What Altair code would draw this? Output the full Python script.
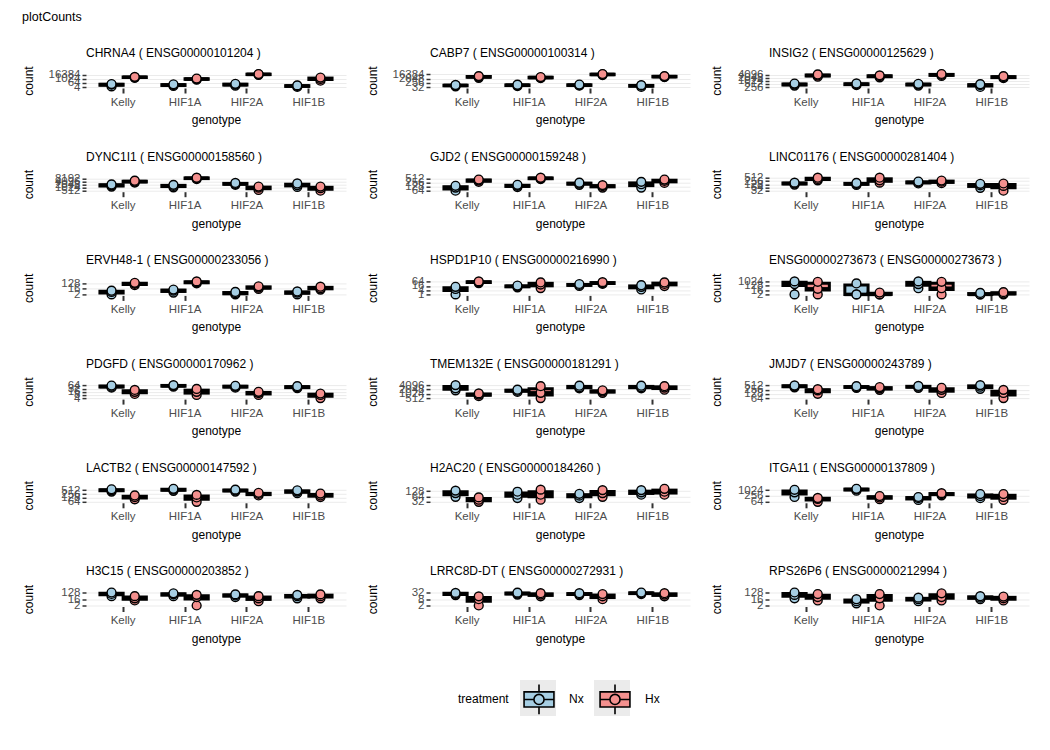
import altair as alt
import pandas as pd

GENOTYPES = ["Kelly", "HIF1A", "HIF2A", "HIF1B"]
TREATMENTS = ["Nx", "Hx"]
FILL_COLORS = ["#A6CEE3", "#F4908E"]

# values: Kelly x3, HIF1A x3, HIF2A x3, HIF1B x3
CHRNA4_NX = [6, 20, 30, 8, 15, 25, 10, 20, 35, 4, 8, 12]
CHRNA4_HX = [2000, 3000, 4000, 600, 900, 1300, 16000, 22000, 28000, 300, 1000, 2500]
CHRNA4_TICKS = [4, 64, 1024, 16384]

CABP7_NX = [45, 70, 90, 50, 80, 100, 60, 80, 110, 32, 60, 80]
CABP7_HX = [3000, 5000, 7000, 2500, 3500, 4500, 12000, 16000, 20000, 4000, 5500, 7000]
CABP7_TICKS = [32, 256, 2048, 16384]

INSIG2_NX = [350, 450, 550, 380, 480, 560, 350, 450, 520, 256, 380, 480]
INSIG2_HX = [2500, 3300, 4200, 2200, 2800, 3400, 3000, 3800, 4600, 1800, 2300, 2800]
INSIG2_TICKS = [256, 512, 1024, 2048, 4096]

DYNC1I1_NX = [1300, 1700, 2100, 1100, 1500, 1900, 1900, 2400, 2900, 1200, 1800, 2600]
DYNC1I1_HX = [3200, 4000, 4800, 7000, 8500, 9500, 600, 1000, 1300, 512, 900, 1300]
DYNC1I1_TICKS = [512, 1024, 2048, 4096, 8192]

GJD2_NX = [64, 110, 150, 120, 150, 180, 180, 220, 260, 110, 200, 300]
GJD2_HX = [300, 380, 450, 480, 560, 620, 110, 140, 170, 250, 350, 450]
GJD2_TICKS = [64, 128, 256, 512]

LINC01176_NX = [120, 150, 180, 110, 140, 170, 150, 190, 230, 60, 100, 140]
LINC01176_HX = [300, 400, 520, 180, 300, 520, 160, 220, 280, 32, 90, 150]
LINC01176_TICKS = [32, 64, 128, 256, 512]

ERVH48_1_NX = [2, 5, 8, 4, 8, 12, 2, 3, 5, 2, 4, 6]
ERVH48_1_HX = [60, 100, 150, 120, 180, 250, 15, 25, 40, 12, 20, 35]
ERVH48_1_TICKS = [2, 16, 128]

HSPD1P10_NX = [1, 6, 12, 10, 14, 18, 16, 22, 30, 5, 12, 20]
HSPD1P10_HX = [40, 55, 70, 8, 25, 50, 30, 40, 55, 15, 30, 50]
HSPD1P10_TICKS = [1, 4, 16, 64]

ENSG273673_NX = [2, 300, 1100, 2, 2, 400, 40, 300, 1100, 2, 2, 4]
ENSG273673_HX = [2, 30, 900, 2, 2, 5, 2, 40, 900, 2, 3, 6]
ENSG273673_TICKS = [2, 16, 128, 1024]

PDGFD_NX = [40, 50, 64, 50, 60, 70, 40, 50, 60, 35, 45, 55]
PDGFD_HX = [10, 16, 24, 8, 16, 30, 8, 12, 16, 4, 8, 11]
PDGFD_TICKS = [4, 8, 16, 32, 64]

TMEM132E_NX = [1800, 2500, 4200, 1400, 1700, 2000, 2500, 3000, 3800, 2500, 3000, 3800]
TMEM132E_HX = [700, 900, 1100, 512, 1200, 3500, 1200, 1500, 1800, 2000, 2800, 3500]
TMEM132E_TICKS = [512, 1024, 2048, 4096]

JMJD7_NX = [380, 450, 520, 350, 400, 460, 350, 420, 480, 300, 420, 550]
JMJD7_HX = [130, 230, 280, 250, 320, 400, 150, 250, 350, 64, 150, 250]
JMJD7_TICKS = [64, 128, 256, 512]

LACTB2_NX = [400, 500, 600, 450, 550, 650, 400, 480, 560, 300, 400, 500]
LACTB2_HX = [100, 150, 200, 64, 140, 220, 200, 260, 320, 150, 200, 280]
LACTB2_TICKS = [64, 128, 256, 512]

H2AC20_NX = [60, 100, 140, 50, 80, 120, 50, 70, 90, 80, 110, 150]
H2AC20_HX = [30, 40, 55, 40, 80, 160, 60, 100, 150, 80, 120, 180]
H2AC20_TICKS = [32, 64, 128]

ITGA11_NX = [200, 600, 1100, 900, 1200, 1400, 100, 150, 200, 150, 250, 400]
ITGA11_HX = [64, 130, 160, 120, 180, 250, 300, 400, 500, 100, 200, 400]
ITGA11_TICKS = [64, 256, 1024]

H3C15_NX = [40, 80, 128, 40, 70, 100, 30, 50, 70, 20, 40, 60]
H3C15_HX = [10, 20, 40, 2, 30, 60, 8, 20, 40, 20, 40, 70]
H3C15_TICKS = [2, 16, 128]

LRRC8D_DT_NX = [20, 26, 32, 22, 28, 34, 20, 25, 30, 25, 30, 35]
LRRC8D_DT_HX = [2, 8, 15, 15, 22, 30, 8, 15, 25, 15, 22, 30]
LRRC8D_DT_TICKS = [2, 8, 32]

RPS26P6_NX = [20, 60, 130, 4, 8, 15, 8, 15, 25, 15, 25, 40]
RPS26P6_HX = [10, 30, 80, 2, 20, 80, 10, 30, 100, 10, 20, 35]
RPS26P6_TICKS = [2, 16, 128]

GENES = [
    ("CHRNA4", "ENSG00000101204", CHRNA4_NX, CHRNA4_HX, CHRNA4_TICKS),
    ("CABP7", "ENSG00000100314", CABP7_NX, CABP7_HX, CABP7_TICKS),
    ("INSIG2", "ENSG00000125629", INSIG2_NX, INSIG2_HX, INSIG2_TICKS),
    ("DYNC1I1", "ENSG00000158560", DYNC1I1_NX, DYNC1I1_HX, DYNC1I1_TICKS),
    ("GJD2", "ENSG00000159248", GJD2_NX, GJD2_HX, GJD2_TICKS),
    ("LINC01176", "ENSG00000281404", LINC01176_NX, LINC01176_HX, LINC01176_TICKS),
    ("ERVH48-1", "ENSG00000233056", ERVH48_1_NX, ERVH48_1_HX, ERVH48_1_TICKS),
    ("HSPD1P10", "ENSG00000216990", HSPD1P10_NX, HSPD1P10_HX, HSPD1P10_TICKS),
    ("ENSG00000273673", "ENSG00000273673", ENSG273673_NX, ENSG273673_HX, ENSG273673_TICKS),
    ("PDGFD", "ENSG00000170962", PDGFD_NX, PDGFD_HX, PDGFD_TICKS),
    ("TMEM132E", "ENSG00000181291", TMEM132E_NX, TMEM132E_HX, TMEM132E_TICKS),
    ("JMJD7", "ENSG00000243789", JMJD7_NX, JMJD7_HX, JMJD7_TICKS),
    ("LACTB2", "ENSG00000147592", LACTB2_NX, LACTB2_HX, LACTB2_TICKS),
    ("H2AC20", "ENSG00000184260", H2AC20_NX, H2AC20_HX, H2AC20_TICKS),
    ("ITGA11", "ENSG00000137809", ITGA11_NX, ITGA11_HX, ITGA11_TICKS),
    ("H3C15", "ENSG00000203852", H3C15_NX, H3C15_HX, H3C15_TICKS),
    ("LRRC8D-DT", "ENSG00000272931", LRRC8D_DT_NX, LRRC8D_DT_HX, LRRC8D_DT_TICKS),
    ("RPS26P6", "ENSG00000212994", RPS26P6_NX, RPS26P6_HX, RPS26P6_TICKS),
]

FONT = "Liberation Sans"
LEGEND_PATH = (
    "M-0.83,-0.42H0.83V0.42H-0.83Z"
    "M0,-0.42V-0.83M0,0.42V0.83"
    "M-0.83,0H-0.28M0.28,0H0.83"
    "M-0.28,0A0.28,0.28,0,1,1,0.28,0A0.28,0.28,0,1,1,-0.28,0Z"
)
LEG_X = 372
LEG_Y = 607
ZW = "\u200b"  # zero-width suffix: keeps the key-background legend separate
KEYS = [t + ZW for t in TREATMENTS]


def make_panel(name, gid, nx, hx, ticks, extent):
    rows = []
    for tr, vals in (("Nx", nx), ("Hx", hx)):
        for i, v in enumerate(vals):
            rows.append(
                {"genotype": GENOTYPES[i // 3], "treatment": tr, "key": tr + ZW, "count": v}
            )
    sub = pd.DataFrame(rows)

    x = alt.X(
        "genotype:N",
        sort=GENOTYPES,
        scale=alt.Scale(domain=GENOTYPES, paddingInner=0, paddingOuter=0.1),
        axis=alt.Axis(title="genotype", labelAngle=0, bandPosition=0.5),
    )
    xo = alt.XOffset(
        "treatment:N",
        sort=TREATMENTS,
        scale=alt.Scale(domain=TREATMENTS, paddingInner=0, paddingOuter=0.334),
    )
    yscale = alt.Scale(type="log", base=2, nice=False, padding=1)
    yaxis = alt.Axis(
        title="count", values=ticks, format="d", minExtent=extent, maxExtent=extent
    )
    fill = alt.Fill(
        "treatment:N",
        sort=TREATMENTS,
        scale=alt.Scale(domain=TREATMENTS, range=FILL_COLORS),
        legend=alt.Legend(
            title="treatment",
            symbolType=LEGEND_PATH,
            orient="none",
            legendX=LEG_X,
            legendY=LEG_Y,
            zindex=2,
            symbolStrokeColor="black",
            symbolStrokeWidth=1.6,
        ),
    )
    key_bg = alt.Opacity(
        "key:N",
        sort=KEYS,
        scale=alt.Scale(domain=KEYS, range=[1, 1]),
        legend=alt.Legend(
            title="treatment",
            symbolType="square",
            orient="none",
            legendX=LEG_X,
            legendY=LEG_Y,
            zindex=1,
            titleColor="rgba(0,0,0,0)",
            labelColor="rgba(0,0,0,0)",
            symbolFillColor="#EBEBEB",
            symbolStrokeColor="#EBEBEB",
            symbolStrokeWidth=0,
        ),
    )
    base = alt.Chart(sub)
    agg = base.transform_aggregate(
        lo="min(count)",
        hi="max(count)",
        q1="q1(count)",
        q3="q3(count)",
        med="median(count)",
        groupby=["genotype", "treatment"],
    )
    whisk = agg.mark_rule(color="black", strokeWidth=2.6).encode(
        x=x, xOffset=xo, y=alt.Y("lo:Q", scale=yscale, axis=yaxis), y2="hi:Q"
    )
    box = agg.mark_bar(stroke="black", strokeWidth=3).encode(
        x=x, xOffset=xo, y=alt.Y("q1:Q", scale=yscale, axis=yaxis), y2="q3:Q", fill=fill
    )
    med = agg.mark_tick(color="black", size=24, thickness=3.5, opacity=1).encode(
        x=x, xOffset=xo, y=alt.Y("med:Q", scale=yscale, axis=yaxis)
    )
    pts = base.mark_point(
        shape="circle", filled=True, size=78, stroke="black", strokeWidth=1.4
    ).encode(
        x=x,
        xOffset=xo,
        y=alt.Y("count:Q", scale=yscale, axis=yaxis),
        fill=fill,
        opacity=key_bg,
    )
    return alt.layer(whisk, box, med, pts).properties(
        width=260,
        height=15,
        title=alt.TitleParams(
            text=f"{name} ( {gid} )",
            anchor="start",
            frame="group",
            fontSize=12,
            fontWeight="normal",
            offset=6,
            color="black",
        ),
    )


panels = []
for idx, (name, gid, nx, hx, ticks) in enumerate(GENES):
    extent = 33 if idx % 3 == 2 else 38
    panels.append(make_panel(name, gid, nx, hx, ticks, extent))

rows = [
    alt.hconcat(*panels[r * 3:(r + 1) * 3], spacing=20).resolve_scale(xOffset="independent")
    for r in range(6)
]

chart = (
    alt.vconcat(*rows, spacing=23.7)
    .resolve_scale(xOffset="independent")
    .properties(
        title=alt.TitleParams(
            text="plotCounts", anchor="start", fontSize=12.5, fontWeight="normal", offset=23
        ),
        padding={"left": 14, "top": 3, "right": 5, "bottom": 5},
    )
    .configure(font=FONT)
    .configure_view(stroke=None)
    .configure_axisX(
        labelFontSize=11.5,
        labelColor="#4D4D4D",
        labelPadding=3,
        tickSize=5,
        tickWidth=2,
        tickColor="#333333",
        domain=False,
        grid=False,
        titleFontSize=12,
        titleFontWeight="normal",
        titleColor="black",
        titlePadding=7,
    )
    .configure_axisY(
        labelFontSize=11.5,
        labelColor="#4D4D4D",
        labelPadding=2,
        labelOverlap=False,
        labelBound=False,
        tickSize=4,
        tickWidth=1.5,
        tickColor="#333333",
        domain=False,
        grid=True,
        gridColor="#EBEBEB",
        gridWidth=1,
        titleFontSize=12,
        titleFontWeight="normal",
        titleColor="black",
        titlePadding=13,
    )
    .configure_legend(
        direction="horizontal",
        titleOrient="left",
        titleAnchor="middle",
        titleBaseline="middle",
        titleFontSize=12,
        titleFontWeight="normal",
        titleColor="black",
        titlePadding=11,
        labelFontSize=12,
        labelColor="black",
        labelOffset=11,
        columnPadding=12,
        symbolSize=1296,
        symbolOpacity=1,
    )
)

chart.save("out.html", embed_options={"renderer": "svg", "actions": False})
